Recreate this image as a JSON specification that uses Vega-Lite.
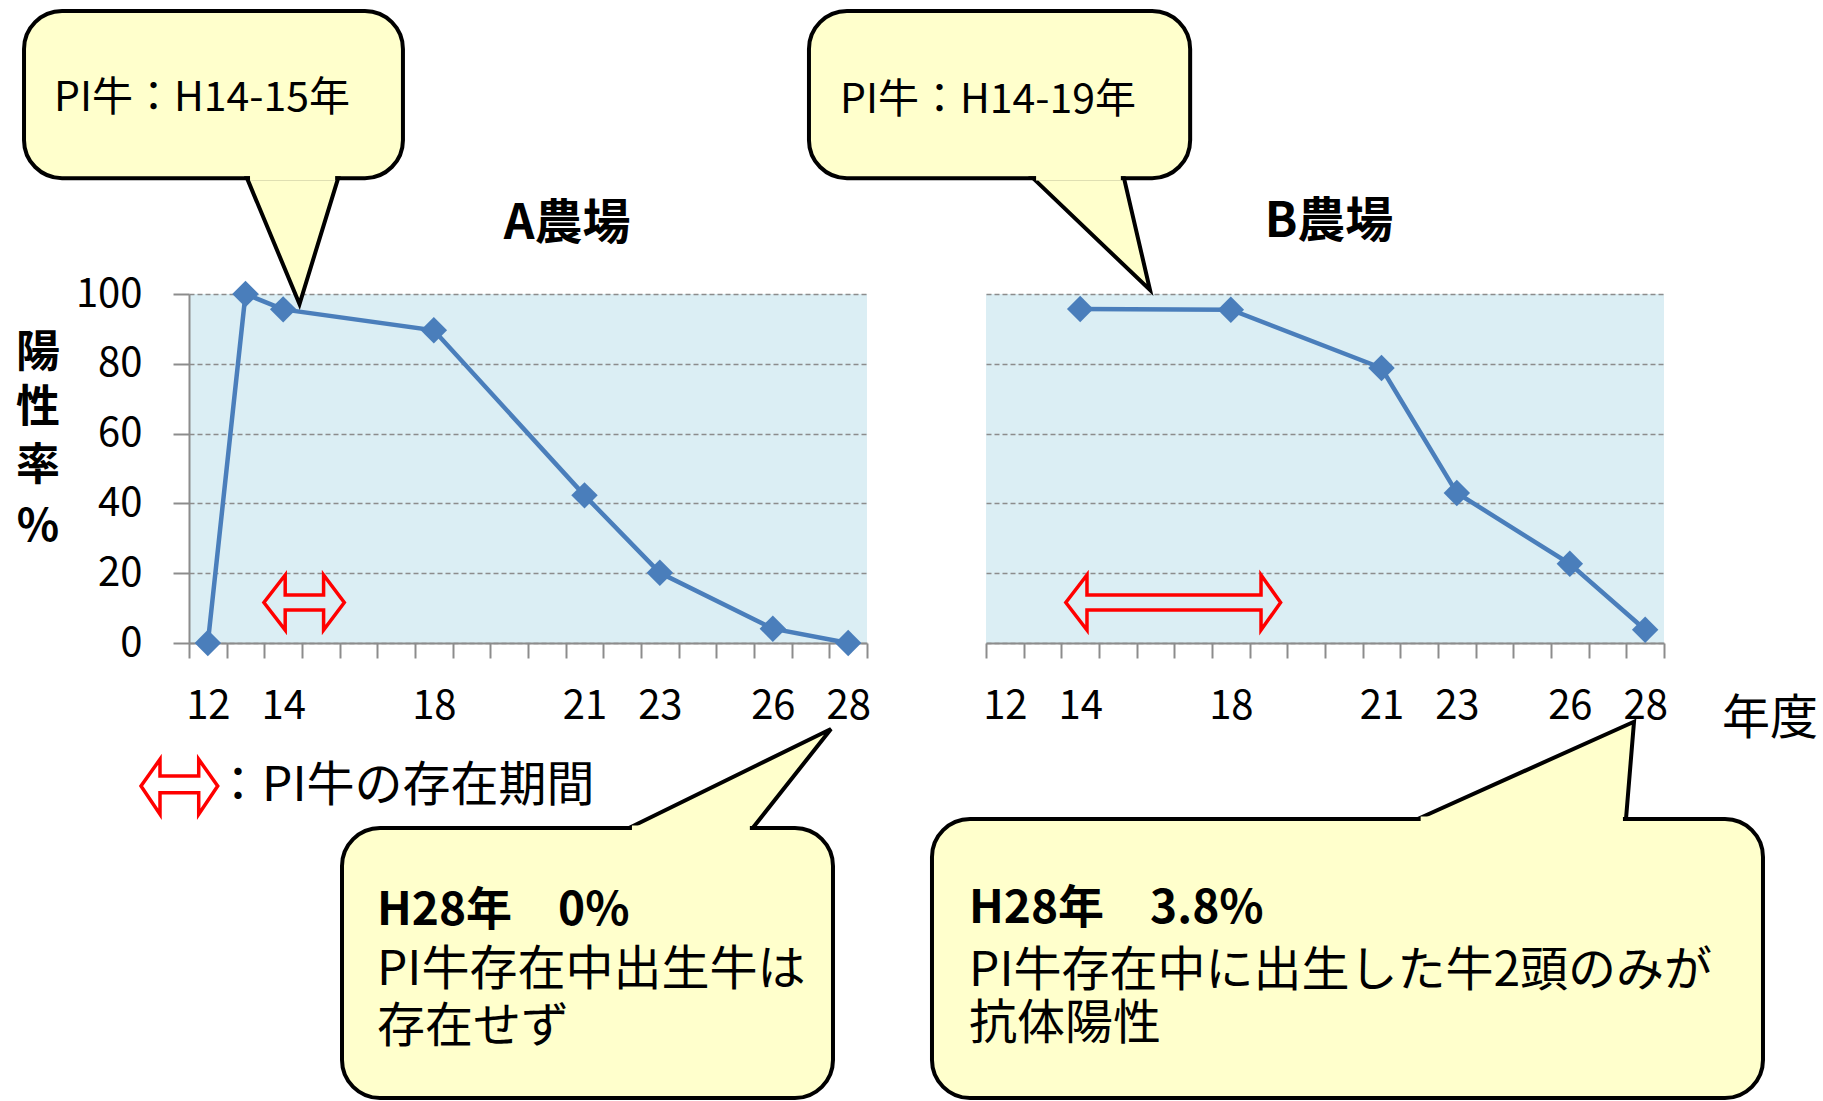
{
  "$schema": "https://vega.github.io/schema/vega-lite/v6.json",
  "padding": {"left": 15, "top": 8, "right": 5, "bottom": 2},
  "background": "white",
  "spacing": 119,
  "bounds": "flush",
  "config": {
    "font": "Noto Sans CJK JP",
    "view": {"fill": "#DBEEF4", "stroke": null},
    "axis": {
      "labelFont": "Noto Sans CJK JP", "labelFontSize": 40, "labelColor": "#000000",
      "domainColor": "#8C8C8C", "domainWidth": 2, "tickColor": "#8C8C8C", "tickWidth": 2,
      "gridColor": "#8C8C8C", "gridDash": [5, 3], "gridWidth": 1.5
    }
  },
  "datasets": {
    "farmA": [
      {"year": 12, "rate": 0}, {"year": 13, "rate": 100}, {"year": 14, "rate": 95.6},
      {"year": 18, "rate": 89.6}, {"year": 21, "rate": 42.3}, {"year": 23, "rate": 20.1},
      {"year": 26, "rate": 4.1}, {"year": 28, "rate": 0}
    ],
    "farmB": [
      {"year": 14, "rate": 95.7}, {"year": 18, "rate": 95.5}, {"year": 21, "rate": 78.8},
      {"year": 23, "rate": 43.0}, {"year": 26, "rate": 22.7}, {"year": 28, "rate": 3.8}
    ],
    "arrowsA": [
      {"id": "L", "o": 0, "x": 10.226, "y": -40.97}, {"id": "L", "o": 1, "x": 10.730, "y": -33.32},
      {"id": "L", "o": 2, "x": 10.730, "y": -38.11}, {"id": "L", "o": 3, "x": 11.758, "y": -38.11},
      {"id": "L", "o": 4, "x": 11.758, "y": -33.32}, {"id": "L", "o": 5, "x": 12.262, "y": -40.97},
      {"id": "L", "o": 6, "x": 11.758, "y": -49.08}, {"id": "L", "o": 7, "x": 11.758, "y": -42.89},
      {"id": "L", "o": 8, "x": 10.730, "y": -42.89}, {"id": "L", "o": 9, "x": 10.730, "y": -49.08},
      {"id": "L", "o": 10, "x": 10.226, "y": -40.97}, {"id": "L", "o": 11, "x": 10.730, "y": -33.32},
      {"id": "P", "o": 0, "x": 13.489, "y": 11.60}, {"id": "P", "o": 1, "x": 14.054, "y": 19.48},
      {"id": "P", "o": 2, "x": 14.054, "y": 13.75}, {"id": "P", "o": 3, "x": 15.073, "y": 13.75},
      {"id": "P", "o": 4, "x": 15.073, "y": 19.48}, {"id": "P", "o": 5, "x": 15.623, "y": 11.60},
      {"id": "P", "o": 6, "x": 15.073, "y": 3.72}, {"id": "P", "o": 7, "x": 15.073, "y": 9.46},
      {"id": "P", "o": 8, "x": 14.054, "y": 9.46}, {"id": "P", "o": 9, "x": 14.054, "y": 3.72},
      {"id": "P", "o": 10, "x": 13.489, "y": 11.60}, {"id": "P", "o": 11, "x": 14.054, "y": 19.48}
    ],
    "arrowsB": [
      {"id": "P", "o": 0, "x": 13.619, "y": 11.60}, {"id": "P", "o": 1, "x": 14.181, "y": 19.48},
      {"id": "P", "o": 2, "x": 14.181, "y": 13.75}, {"id": "P", "o": 3, "x": 18.601, "y": 13.75},
      {"id": "P", "o": 4, "x": 18.601, "y": 19.48}, {"id": "P", "o": 5, "x": 18.991, "y": 11.60},
      {"id": "P", "o": 6, "x": 18.601, "y": 3.72}, {"id": "P", "o": 7, "x": 18.601, "y": 9.46},
      {"id": "P", "o": 8, "x": 14.181, "y": 9.46}, {"id": "P", "o": 9, "x": 14.181, "y": 3.72},
      {"id": "P", "o": 10, "x": 13.619, "y": 11.60}, {"id": "P", "o": 11, "x": 14.181, "y": 19.48}
    ],
    "boxesA": [
      {"id": "TL", "x": 7.12, "x2": 17.18, "y": 181.1, "y2": 133.2},
      {"id": "BL", "x": 15.562, "x2": 27.597, "y": -53.0, "y2": -130.37}
    ],
    "boxesB": [
      {"id": "TR", "x": 6.80, "x2": 16.92, "y": 181.1, "y2": 133.2},
      {"id": "BR", "x": 10.066, "x2": 31.128, "y": -50.43, "y2": -130.37}
    ],
    "ptrA": [
      {"id": "TL", "py": 133.2, "px": 13.04, "px2": 15.46},
      {"id": "TL", "py": 97.13, "px": 14.434, "px2": 14.434},
      {"id": "BL", "py": -53.0, "px": 22.181, "px2": 25.466},
      {"id": "BL", "py": -24.64, "px": 27.544, "px2": 27.544}
    ],
    "ptrB": [
      {"id": "TR", "py": 133.2, "px": 12.748, "px2": 15.164},
      {"id": "TR", "py": 101.15, "px": 15.854, "px2": 15.854},
      {"id": "BR", "py": -50.43, "px": 21.961, "px2": 27.491},
      {"id": "BR", "py": -22.55, "px": 27.704, "px2": 27.704}
    ],
    "coverA": [
      {"id": "TL", "x": 13.12, "x2": 15.38, "y": 134.0, "y2": 132.5},
      {"id": "BL", "x": 22.26, "x2": 25.39, "y": -52.3, "y2": -53.7}
    ],
    "coverB": [
      {"id": "TR", "x": 12.83, "x2": 15.08, "y": 134.0, "y2": 132.5},
      {"id": "BR", "x": 22.04, "x2": 27.41, "y": -49.7, "y2": -51.1}
    ],
    "titleA": [{"t": "A農場", "x": 20.652, "y": 115.76}],
    "titleB": [{"t": "B農場", "x": 19.955, "y": 116.3}],
    "ytitle": [
      {"t": "陽", "x": 7.491, "y": 79.08}, {"t": "性", "x": 7.491, "y": 63.32},
      {"t": "率", "x": 7.491, "y": 46.70}, {"t": "%", "x": 7.491, "y": 29.23}
    ],
    "topA": [{"t": "PI牛：H14-15年", "x": 7.916, "y": 152.4}],
    "topB": [{"t": "PI牛：H14-19年", "x": 7.624, "y": 151.9}],
    "normA": [
      {"t": "：PI牛の存在期間", "x": 12.164, "y": -45.27},
      {"t": "PI牛存在中出生牛は", "x": 16.49, "y": -98.0},
      {"t": "存在せず", "x": 16.49, "y": -114.3}
    ],
    "normB": [
      {"t": "PI牛存在中に出生した牛2頭のみが", "x": 11.049, "y": -98.2},
      {"t": "抗体陽性", "x": 11.049, "y": -113.5},
      {"t": "年度", "x": 30.04, "y": -26.07}
    ],
    "boldA": [{"t": "H28年　0%", "x": 16.49, "y": -80.8}],
    "boldB": [{"t": "H28年　3.8%", "x": 11.049, "y": -80.3}]
  },
  "hconcat": [
    {
      "width": 678,
      "height": 349,
      "layer": [
        {
          "data": {"name": "farmA"},
          "mark": {"type": "line", "color": "#4A7EBB", "strokeWidth": 4.5},
          "encoding": {
            "x": {"field": "year", "type": "quantitative",
              "scale": {"domain": [11.5, 18, 21, 28.5], "range": [0, 244.833, 395.5, 678], "nice": false, "zero": false},
              "axis": {"values": [11.5, 12.5, 13.5, 14.5, 15.5, 16.5, 17.5, 18.375, 19.125, 19.875, 20.625, 21.5, 22.5, 23.5, 24.5, 25.5, 26.5, 27.5, 28.5],
                "tickCount": 100,
                "labelExpr": "datum.value == 12.5 ? '12' : datum.value == 14.5 ? '14' : datum.value == 18.375 ? '18' : datum.value == 21.5 ? '21' : datum.value == 23.5 ? '23' : datum.value == 26.5 ? '26' : datum.value == 28.5 ? '28' : ''",
                "labelOffset": -18.833, "tickSize": 15, "labelPadding": 60.5, "labelBaseline": "alphabetic",
                "labelOverlap": false, "labelFlush": false, "grid": false, "title": null}},
            "y": {"field": "rate", "type": "quantitative",
              "scale": {"domain": [0, 100], "nice": false, "zero": false},
              "axis": {"values": [0, 20, 40, 60, 80, 100], "tickCount": 100, "tickSize": 16, "labelPadding": 31, "grid": true, "title": null}}
          }
        },
        {
          "data": {"name": "farmA"},
          "mark": {"type": "point", "shape": "diamond", "filled": true, "size": 700, "color": "#4A7EBB", "opacity": 1},
          "encoding": {
            "x": {"field": "year", "type": "quantitative"},
            "y": {"field": "rate", "type": "quantitative"}
          }
        },
        {
          "data": {"name": "arrowsA"},
          "mark": {"type": "line", "color": "#FF0000", "strokeWidth": 3.5, "strokeJoin": "miter"},
          "encoding": {
            "x": {"field": "x", "type": "quantitative"},
            "y": {"field": "y", "type": "quantitative"},
            "order": {"field": "o", "type": "quantitative"},
            "detail": {"field": "id"}
          }
        },
        {
          "data": {"name": "titleA"},
          "mark": {"type": "text", "fontSize": 48, "fontWeight": "bold", "align": "center", "baseline": "alphabetic", "color": "#000000"},
          "encoding": {
            "x": {"field": "x", "type": "quantitative"},
            "y": {"field": "y", "type": "quantitative"},
            "text": {"field": "t"}
          }
        },
        {
          "data": {"name": "ytitle"},
          "mark": {"type": "text", "fontSize": 44, "fontWeight": "bold", "align": "center", "baseline": "alphabetic", "color": "#000000"},
          "encoding": {
            "x": {"field": "x", "type": "quantitative"},
            "y": {"field": "y", "type": "quantitative"},
            "text": {"field": "t"}
          }
        },
        {
          "data": {"name": "boxesA"},
          "mark": {"type": "rect", "fill": "#FFFFCC", "stroke": "#000000", "strokeWidth": 4, "cornerRadius": 38},
          "encoding": {
            "x": {"field": "x", "type": "quantitative"},
            "x2": {"field": "x2"},
            "y": {"field": "y", "type": "quantitative"},
            "y2": {"field": "y2"}
          }
        },
        {
          "data": {"name": "ptrA"},
          "mark": {"type": "area", "orient": "horizontal", "fill": "#FFFFCC", "stroke": "#000000", "strokeWidth": 4, "strokeJoin": "miter", "opacity": 1, "fillOpacity": 1},
          "encoding": {
            "y": {"field": "py", "type": "quantitative"},
            "x": {"field": "px", "type": "quantitative"},
            "x2": {"field": "px2"},
            "detail": {"field": "id"}
          }
        },
        {
          "data": {"name": "coverA"},
          "mark": {"type": "rect", "fill": "#FFFFCC", "strokeWidth": 0},
          "encoding": {
            "x": {"field": "x", "type": "quantitative"},
            "x2": {"field": "x2"},
            "y": {"field": "y", "type": "quantitative"},
            "y2": {"field": "y2"}
          }
        },
        {
          "data": {"name": "topA"},
          "mark": {"type": "text", "fontSize": 41, "align": "left", "baseline": "alphabetic", "color": "#000000"},
          "encoding": {
            "x": {"field": "x", "type": "quantitative"},
            "y": {"field": "y", "type": "quantitative"},
            "text": {"field": "t"}
          }
        },
        {
          "data": {"name": "normA"},
          "mark": {"type": "text", "fontSize": 48, "align": "left", "baseline": "alphabetic", "color": "#000000"},
          "encoding": {
            "x": {"field": "x", "type": "quantitative"},
            "y": {"field": "y", "type": "quantitative"},
            "text": {"field": "t"}
          }
        },
        {
          "data": {"name": "boldA"},
          "mark": {"type": "text", "fontSize": 46, "fontWeight": "bold", "align": "left", "baseline": "alphabetic", "color": "#000000"},
          "encoding": {
            "x": {"field": "x", "type": "quantitative"},
            "y": {"field": "y", "type": "quantitative"},
            "text": {"field": "t"}
          }
        }
      ]
    },
    {
      "width": 678,
      "height": 349,
      "layer": [
        {
          "data": {"name": "farmB"},
          "mark": {"type": "line", "color": "#4A7EBB", "strokeWidth": 4.5},
          "encoding": {
            "x": {"field": "year", "type": "quantitative",
              "scale": {"domain": [11.5, 18, 21, 28.5], "range": [0, 244.833, 395.5, 678], "nice": false, "zero": false},
              "axis": {"values": [11.5, 12.5, 13.5, 14.5, 15.5, 16.5, 17.5, 18.375, 19.125, 19.875, 20.625, 21.5, 22.5, 23.5, 24.5, 25.5, 26.5, 27.5, 28.5],
                "tickCount": 100,
                "labelExpr": "datum.value == 12.5 ? '12' : datum.value == 14.5 ? '14' : datum.value == 18.375 ? '18' : datum.value == 21.5 ? '21' : datum.value == 23.5 ? '23' : datum.value == 26.5 ? '26' : datum.value == 28.5 ? '28' : ''",
                "labelOffset": -18.833, "tickSize": 15, "labelPadding": 60.5, "labelBaseline": "alphabetic",
                "labelOverlap": false, "labelFlush": false, "grid": false, "title": null}},
            "y": {"field": "rate", "type": "quantitative",
              "scale": {"domain": [0, 100], "nice": false, "zero": false},
              "axis": {"values": [0, 20, 40, 60, 80, 100], "tickCount": 100, "grid": true, "labels": false, "ticks": false, "domain": false, "title": null}}
          }
        },
        {
          "data": {"name": "farmB"},
          "mark": {"type": "point", "shape": "diamond", "filled": true, "size": 700, "color": "#4A7EBB", "opacity": 1},
          "encoding": {
            "x": {"field": "year", "type": "quantitative"},
            "y": {"field": "rate", "type": "quantitative"}
          }
        },
        {
          "data": {"name": "arrowsB"},
          "mark": {"type": "line", "color": "#FF0000", "strokeWidth": 3.5, "strokeJoin": "miter"},
          "encoding": {
            "x": {"field": "x", "type": "quantitative"},
            "y": {"field": "y", "type": "quantitative"},
            "order": {"field": "o", "type": "quantitative"},
            "detail": {"field": "id"}
          }
        },
        {
          "data": {"name": "titleB"},
          "mark": {"type": "text", "fontSize": 48, "fontWeight": "bold", "align": "center", "baseline": "alphabetic", "color": "#000000"},
          "encoding": {
            "x": {"field": "x", "type": "quantitative"},
            "y": {"field": "y", "type": "quantitative"},
            "text": {"field": "t"}
          }
        },
        {
          "data": {"name": "boxesB"},
          "mark": {"type": "rect", "fill": "#FFFFCC", "stroke": "#000000", "strokeWidth": 4, "cornerRadius": 38},
          "encoding": {
            "x": {"field": "x", "type": "quantitative"},
            "x2": {"field": "x2"},
            "y": {"field": "y", "type": "quantitative"},
            "y2": {"field": "y2"}
          }
        },
        {
          "data": {"name": "ptrB"},
          "mark": {"type": "area", "orient": "horizontal", "fill": "#FFFFCC", "stroke": "#000000", "strokeWidth": 4, "strokeJoin": "miter", "opacity": 1, "fillOpacity": 1},
          "encoding": {
            "y": {"field": "py", "type": "quantitative"},
            "x": {"field": "px", "type": "quantitative"},
            "x2": {"field": "px2"},
            "detail": {"field": "id"}
          }
        },
        {
          "data": {"name": "coverB"},
          "mark": {"type": "rect", "fill": "#FFFFCC", "strokeWidth": 0},
          "encoding": {
            "x": {"field": "x", "type": "quantitative"},
            "x2": {"field": "x2"},
            "y": {"field": "y", "type": "quantitative"},
            "y2": {"field": "y2"}
          }
        },
        {
          "data": {"name": "topB"},
          "mark": {"type": "text", "fontSize": 41, "align": "left", "baseline": "alphabetic", "color": "#000000"},
          "encoding": {
            "x": {"field": "x", "type": "quantitative"},
            "y": {"field": "y", "type": "quantitative"},
            "text": {"field": "t"}
          }
        },
        {
          "data": {"name": "normB"},
          "mark": {"type": "text", "fontSize": 48, "align": "left", "baseline": "alphabetic", "color": "#000000"},
          "encoding": {
            "x": {"field": "x", "type": "quantitative"},
            "y": {"field": "y", "type": "quantitative"},
            "text": {"field": "t"}
          }
        },
        {
          "data": {"name": "boldB"},
          "mark": {"type": "text", "fontSize": 46, "fontWeight": "bold", "align": "left", "baseline": "alphabetic", "color": "#000000"},
          "encoding": {
            "x": {"field": "x", "type": "quantitative"},
            "y": {"field": "y", "type": "quantitative"},
            "text": {"field": "t"}
          }
        }
      ]
    }
  ]
}
